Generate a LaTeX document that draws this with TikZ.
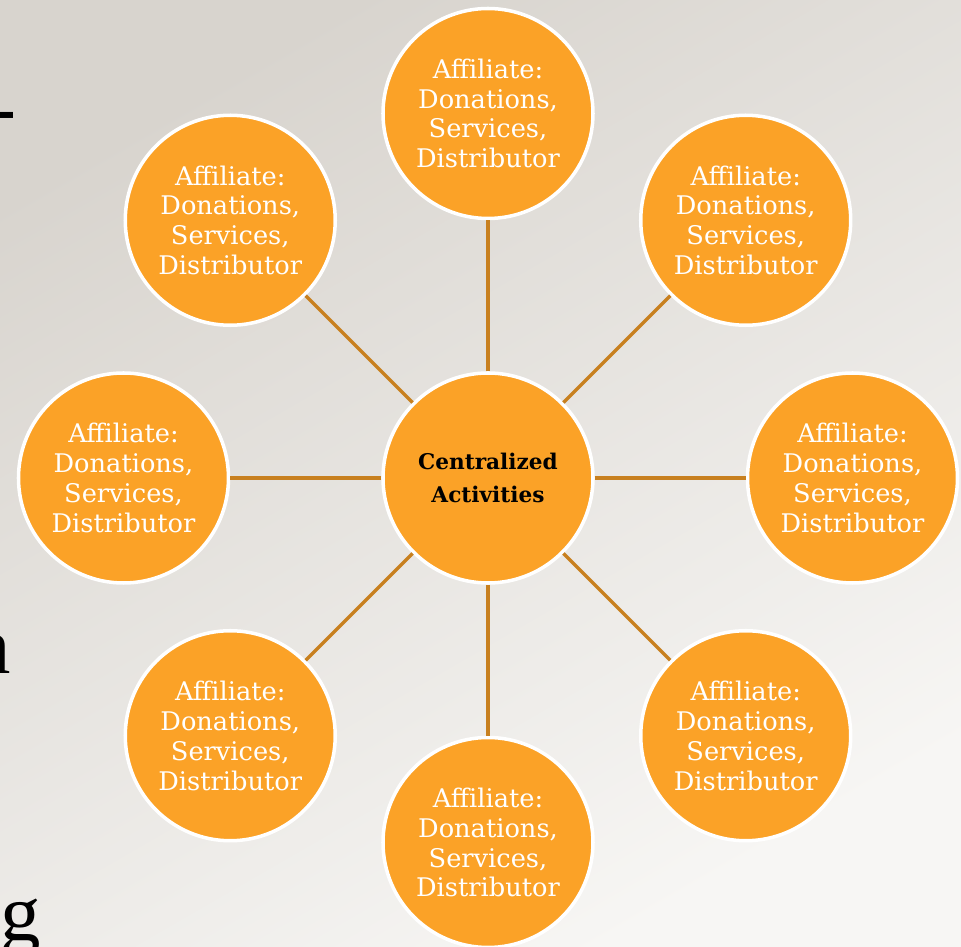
\documentclass[tikz,border=0pt]{standalone}
\usepackage{fontspec}
\setmainfont{DejaVu Serif}
\newfontfamily\slidefont{Liberation Serif}

\definecolor{hubfill}{HTML}{FBA227}
\definecolor{spoke}{HTML}{C8801F}
\definecolor{bgdark}{HTML}{D8D4CE}
\definecolor{bglight}{HTML}{F7F6F4}

\tikzset{
    hub/.style={circle, draw=white, line width=2pt, fill=hubfill,
        minimum size=4.2cm, inner sep=0pt, align=center},
    affiliate/.style={hub, text=white, font=\fontsize{14.6}{17}\selectfont},
    spokeline/.style={draw=spoke, line width=2pt},
    cutoff/.style={inner sep=0pt, font=\slidefont\fontsize{46}{50}\selectfont}
}

\begin{document}
\begin{tikzpicture}
        % Frame and background
        \clip (-9.76, -9.38) rectangle (9.46, 9.56);
        \shade[shading=axis, top color=bgdark, bottom color=bglight, shading angle=30]
            (-9.76, -9.38) rectangle (9.46, 9.56);

        % Slide text cut off at the left edge
        \node[cutoff, anchor=base west] (cutDash) at (-9.98, 6.86) {-};
        \node[cutoff, anchor=base east] (cutN) at (-9.54, -3.92) {n};
        \node[cutoff, anchor=base west] (cutG) at (-9.76, -9.26) {g};

        % Centre
        \node[hub, font=\bfseries\fontsize{12.3}{19}\selectfont] (center) at (0, 0)
            {Centralized\\Activities};

        % Affiliates round the centre
        \foreach \i in {0,...,7} {
            \node[affiliate] (aff\i) at (90-\i*45:7.29)
                {Affiliate:\\Donations,\\Services,\\Distributor};
            \draw[spokeline] (center) -- (aff\i);
        }
    \end{tikzpicture}
\end{document}
